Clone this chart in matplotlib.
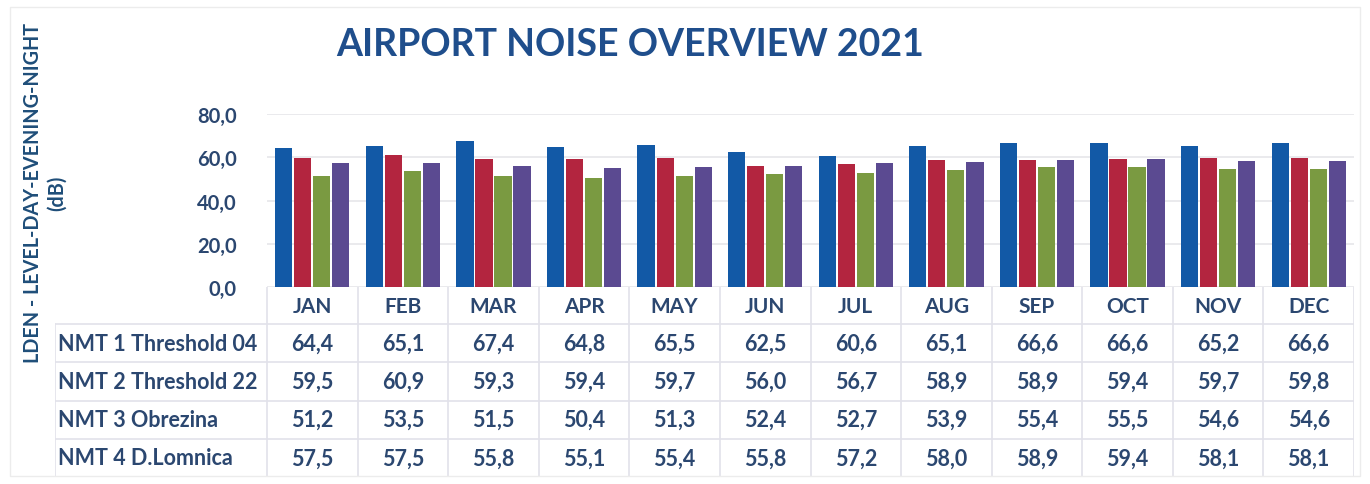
import matplotlib.pyplot as plt
from matplotlib.patches import Rectangle

months = ['JAN', 'FEB', 'MAR', 'APR', 'MAY', 'JUN', 'JUL', 'AUG', 'SEP', 'OCT', 'NOV', 'DEC']
series_names = ['NMT 1 Threshold 04', 'NMT 2 Threshold 22', 'NMT 3 Obrezina', 'NMT 4 D.Lomnica']
nmt1 = [64.4, 65.1, 67.4, 64.8, 65.5, 62.5, 60.6, 65.1, 66.6, 66.6, 65.2, 66.6]
nmt2 = [59.5, 60.9, 59.3, 59.4, 59.7, 56.0, 56.7, 58.9, 58.9, 59.4, 59.7, 59.8]
nmt3 = [51.2, 53.5, 51.5, 50.4, 51.3, 52.4, 52.7, 53.9, 55.4, 55.5, 54.6, 54.6]
nmt4 = [57.5, 57.5, 55.8, 55.1, 55.4, 55.8, 57.2, 58.0, 58.9, 59.4, 58.1, 58.1]
yticks = [0, 20, 40, 60, 80]

colors = ['#1259A6', '#B3253F', '#7A9A41', '#5B4A91']
txt = '#2B4770'
plt.rcParams['font.family'] = ['Lato', 'DejaVu Sans']

W, H = 1370, 485
fig = plt.figure(figsize=(W / 100, H / 100), dpi=100)

# pixel geometry
x0, x1 = 267, 1354
y_zero, y_top = 288, 115
lab_left = 55
bottom_tab = 478

ax = fig.add_axes([x0 / W, (H - y_zero) / H, (x1 - x0) / W, (y_zero - y_top) / H])
data = [nmt1, nmt2, nmt3, nmt4]
bw = 0.19
step = 0.21
xs = list(range(len(months)))
for i, vals in enumerate(data):
    off = (i - 1.5) * step
    ax.bar([x + off for x in xs], vals, width=bw, color=colors[i], zorder=3)
ax.set_xlim(-0.5, len(months) - 0.5)
ax.set_ylim(0, 80)
ax.set_yticks(yticks)
ax.set_yticklabels([('%.1f' % v).replace('.', ',') for v in yticks])
ax.tick_params(axis='y', length=0, pad=22, labelsize=14.5, labelcolor=txt)
ax.set_xticks([])
for lbl in ax.get_yticklabels():
    lbl.set_fontweight('bold')
ax.grid(axis='y', color='#E6E6EA', linewidth=1.2, zorder=0)
for s in ax.spines.values():
    s.set_visible(False)

# table below
unit = (x1 - x0) / len(months)
lab_units = (x0 - lab_left) / unit
tax = fig.add_axes([lab_left / W, (H - bottom_tab) / H, (x1 - lab_left) / W, (bottom_tab - y_zero) / H])
tax.set_xlim(-0.5 - lab_units, len(months) - 0.5)
row_h = [1.0, 1.03, 1.03, 1.03, 1.03]
edges = [0]
for h in row_h:
    edges.append(edges[-1] + h)
tax.set_ylim(edges[-1], 0)
tax.axis('off')
lc = '#E2E2EA'
for j in range(len(months) + 1):
    tax.plot([j - 0.5, j - 0.5], [0, edges[-1]], color=lc, lw=1.2)
for k in range(1, len(edges)):
    tax.plot([-0.5 - lab_units, len(months) - 0.5], [edges[k], edges[k]], color=lc, lw=1.2)
tax.plot([-0.5 - lab_units, -0.5 - lab_units], [edges[1], edges[-1]], color=lc, lw=1.2)

for j, m in enumerate(months):
    tax.text(j, (edges[0] + edges[1]) / 2, m, ha='center', va='center',
             fontsize=15, color=txt, fontweight='bold')
for r, (name, vals) in enumerate(zip(series_names, data)):
    yc = (edges[r + 1] + edges[r + 2]) / 2
    tax.text(-0.5 - lab_units + 0.03, yc, name, ha='left', va='center',
             fontsize=15.5, color=txt, fontweight='bold')
    for j, v in enumerate(vals):
        tax.text(j, yc, ('%.1f' % v).replace('.', ','), ha='center', va='center',
                 fontsize=15.5, color=txt, fontweight='bold')

fig.text(630 / W, 1 - 45 / H, 'AIRPORT NOISE OVERVIEW 2021', ha='center', va='center',
         fontsize=27, fontweight='bold', color='#1F4E8C')
fig.text(45 / W, 1 - 193 / H, 'LDEN - LEVEL-DAY-EVENING-NIGHT\n(dB)', rotation=90,
         ha='center', va='center', fontsize=14.2, fontweight='bold', color='#1F4E79',
         multialignment='center', linespacing=1.3)

fig.patches.append(Rectangle((10 / W, 8 / H), (W - 20) / W, (H - 16) / H, transform=fig.transFigure,
                             fill=False, edgecolor='#ECECEC', lw=1))

fig.savefig('out.png', dpi=100)
